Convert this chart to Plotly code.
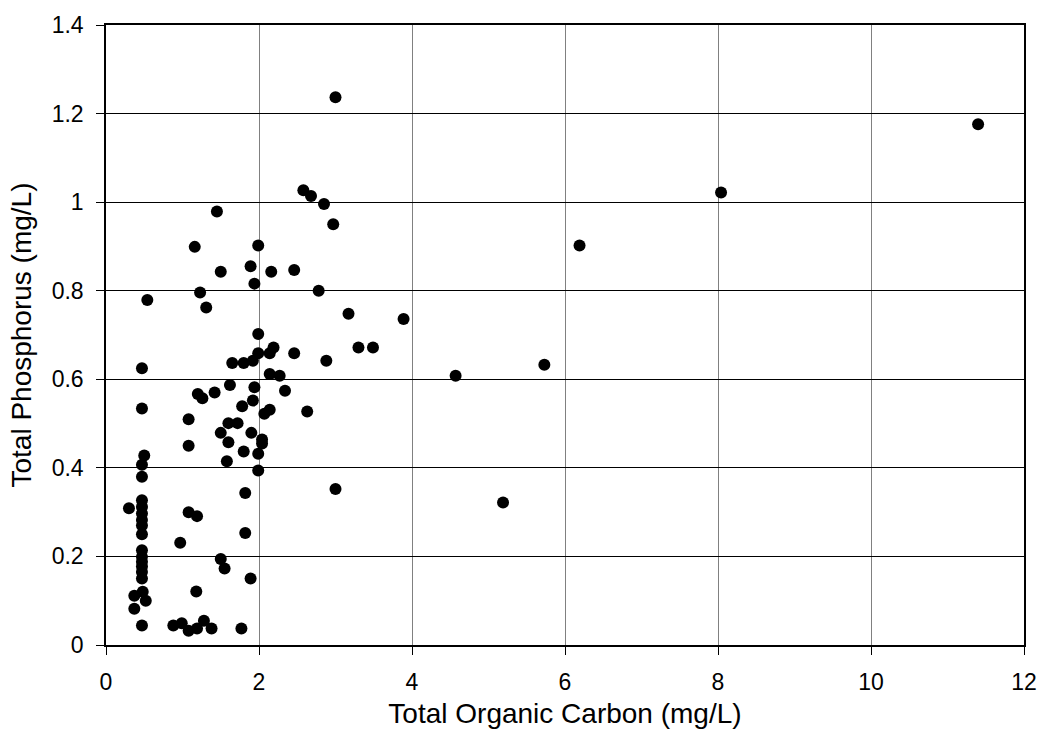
import plotly.graph_objects as go

# Total organic carbon (mg/L) and total phosphorus (mg/L) for each sample
toc = [
    11.40, 8.04, 6.19, 3.89, 3.49, 3.30, 4.57, 5.73, 5.19, 3.17, 3.00, 3.00,
    2.58, 2.68, 2.85, 2.97, 1.45, 1.16, 1.99, 1.89, 1.50, 2.16, 2.46, 1.94,
    1.23, 2.78, 1.31, 1.99, 2.19, 2.14, 1.99, 2.46, 1.92, 1.80, 1.65, 2.88,
    2.14, 2.27, 1.62, 1.94, 2.34, 1.20, 1.26, 1.42, 1.92, 1.78, 2.14, 2.07,
    2.63, 1.08, 1.60, 1.72, 1.50, 1.90, 1.60, 2.04, 2.04, 1.08, 1.80, 1.99,
    1.58, 1.99,
    1.82, 1.08, 1.19, 1.82, 0.97, 1.50, 1.55, 1.89, 1.18,
    0.88, 0.99, 1.08, 1.19, 1.28, 1.38, 1.77, 0.47,
    0.47, 0.47, 0.47, 0.47, 0.47, 0.47, 0.47, 0.47, 0.47, 0.47,
    0.47, 0.47, 0.47, 0.47, 0.47, 0.47,
    0.50, 0.48, 0.30, 0.37, 0.52, 0.37, 0.54,
]
tp = [
    1.176, 1.022, 0.902, 0.736, 0.672, 0.672, 0.608, 0.633, 0.322, 0.748, 0.352, 1.237,
    1.027, 1.014, 0.996, 0.950, 0.979, 0.899, 0.902, 0.855, 0.843, 0.843, 0.847, 0.816,
    0.796, 0.800, 0.762, 0.702, 0.672, 0.659, 0.659, 0.659, 0.642, 0.637, 0.637, 0.642,
    0.612, 0.608, 0.587, 0.582, 0.574, 0.567, 0.557, 0.570, 0.552, 0.539, 0.531, 0.522,
    0.527, 0.510, 0.501, 0.501, 0.479, 0.479, 0.458, 0.464, 0.455, 0.450, 0.437, 0.432,
    0.415, 0.394,
    0.343, 0.300, 0.291, 0.253, 0.231, 0.194, 0.173, 0.150, 0.121,
    0.044, 0.049, 0.032, 0.037, 0.055, 0.037, 0.037, 0.044,
    0.625, 0.534, 0.407, 0.380, 0.327, 0.312, 0.297, 0.282, 0.270, 0.250,
    0.214, 0.199, 0.188, 0.177, 0.165, 0.150,
    0.428, 0.120, 0.309, 0.111, 0.100, 0.082, 0.779,
]

x_title = "Total Organic Carbon (mg/L)"
y_title = "Total Phosphorus (mg/L)"
x_ticks = [0, 2, 4, 6, 8, 10, 12]
y_ticks = [0, 0.2, 0.4, 0.6, 0.8, 1, 1.2, 1.4]
y_tick_text = ["0", "0.2", "0.4", "0.6", "0.8", "1", "1.2", "1.4"]

FONT = "Liberation Sans, Arial, sans-serif"

fig = go.Figure(
    go.Scatter(
        x=toc,
        y=tp,
        mode="markers",
        marker=dict(color="black", size=12, line=dict(width=0)),
        showlegend=False,
        hoverinfo="x+y",
    )
)

fig.update_layout(
    width=1049,
    height=746,
    margin=dict(l=106, r=16, t=24, b=101),
    paper_bgcolor="white",
    plot_bgcolor="white",
    font=dict(family=FONT, size=22, color="black"),
    xaxis=dict(
        range=[0, 12],
        tickvals=x_ticks,
        ticktext=[str(v) for v in x_ticks],
        showgrid=True,
        gridcolor="#808080",
        gridwidth=1,
        zeroline=False,
        showline=True,
        linecolor="black",
        linewidth=1.5,
        mirror=True,
        ticks="outside",
        ticklen=8,
        tickcolor="black",
        tickwidth=1,
        tickfont=dict(family=FONT, size=23),
        ticklabelstandoff=8,
        title=dict(text=x_title, font=dict(family=FONT, size=28), standoff=9),
    ),
    yaxis=dict(
        range=[0, 1.4],
        tickvals=y_ticks,
        ticktext=y_tick_text,
        showgrid=True,
        gridcolor="black",
        gridwidth=1,
        zeroline=False,
        showline=True,
        linecolor="black",
        linewidth=1.5,
        mirror=True,
        ticks="outside",
        ticklen=8,
        tickcolor="black",
        tickwidth=1,
        tickfont=dict(family=FONT, size=23),
        ticklabelstandoff=8,
        title=dict(text=y_title, font=dict(family=FONT, size=28), standoff=12),
    ),
)

fig.write_html("out.html")
